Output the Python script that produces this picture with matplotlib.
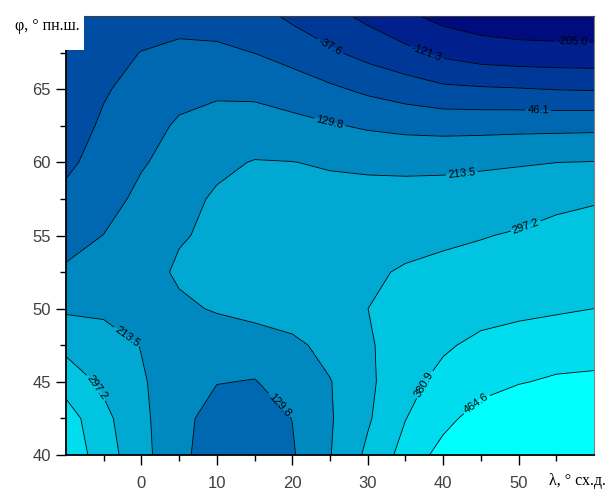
import numpy as np
import matplotlib
matplotlib.use("Agg")
import matplotlib.pyplot as plt
from matplotlib.patches import Rectangle

# grid: longitude (deg E) and latitude (deg N)
lons = [-10, -5, 0, 5, 10, 15, 20, 25, 30, 35, 40, 45, 50, 55, 60]
lats = [40, 42.5, 45, 47.5, 50, 52.5, 55, 57.5, 60, 62.5, 65, 67.5, 70]

# field values, one row per latitude
row_40 = [440, 338, 238, 155, 76, 75, 122, 210, 314, 411, 495, 520, 540, 550, 555]
row_42_5 = [420, 320, 231, 159, 90, 88, 131, 206, 287, 379, 440, 501, 525, 535, 545]
row_45 = [347, 280, 220, 179, 133, 126, 168, 210, 280, 355, 405, 432, 460, 475, 480]
row_47_5 = [275, 250, 211, 185, 170, 175, 195, 239, 289, 331, 370, 400, 415, 425, 430]
row_50 = [202, 198, 190, 200, 220, 238, 255, 276, 297, 318, 338, 352, 363, 372, 381]
row_52_5 = [140, 155, 180, 225, 235, 245, 255, 265, 285, 305, 318, 328, 336, 343, 350]
row_55 = [102, 131, 169, 207, 228, 240, 250, 258, 265, 272, 282, 293, 305, 313, 321]
row_57_5 = [66, 100, 148, 185, 225, 235, 240, 242, 243, 242, 244, 250, 260, 285, 292]
row_60 = [30, 78, 123, 158, 195, 218, 215, 205, 198, 196, 197, 202, 207, 213, 216]
row_62_5 = [0, 60, 99, 140, 155, 158, 150, 137, 120, 108, 103, 104, 107, 108, 110]
row_65 = [-15, 37, 80, 105, 118, 115, 95, 60, 30, 4, -21, -28, -33, -40, -44]
row_67_5 = [-10, 20, 48, 65, 62, 45, 10, -25, -65, -100, -140, -165, -175, -178, -180]
row_70 = [-20, -10, 5, 15, 10, -10, -52, -95, -141, -190, -230, -250, -260, -265, -268]

levels = [-205.0, -121.3, -37.6, 46.1, 129.8, 213.5, 297.2, 380.9, 464.6]
band_colors = ["#000C7E", "#00208E", "#003898", "#004EA3", "#0068B0",
               "#0088C0", "#00A8D2", "#00C4E0", "#00DDEE", "#00FFFF"]

# where the contour labels sit (lon, lat)
label_spots = [(57.1, 68.0), (37.6, 67.1), (25.0, 67.9), (52.6, 63.3),
               (25.0, 62.8), (42.6, 58.7), (50.9, 55.7), (-1.9, 48.1),
               (-6.0, 44.6), (37.6, 44.8), (44.6, 43.4), (18.7, 43.6)]

x_ticks = [0, 10, 20, 30, 40, 50]
x_minor = [-5, 5, 15, 25, 35, 45, 55]
y_ticks = [40, 45, 50, 55, 60, 65]
y_minor = [42.5, 47.5, 52.5, 57.5, 62.5, 67.5]

z = np.array([row_40, row_42_5, row_45, row_47_5, row_50, row_52_5, row_55,
              row_57_5, row_60, row_62_5, row_65, row_67_5, row_70])

plt.rcParams["font.family"] = ["Liberation Sans Narrow", "Liberation Sans"]

W, H = 609, 492
fig = plt.figure(figsize=(W / 100, H / 100), dpi=100)
ax = fig.add_axes([66 / W, 1 - 455 / H, (594 - 66) / W, (455 - 16) / H])

ax.contourf(lons, lats, z, levels=[-1000] + levels + [1000], colors=band_colors)
cs = ax.contour(lons, lats, z, levels=levels, colors="black", linewidths=0.6,
                negative_linestyles="solid")
ax.clabel(cs, fmt="%.1f", manual=label_spots, inline=True, fontsize=8,
          inline_spacing=2)

ax.set_xlim(-10, 60)
ax.set_ylim(40, 70)
ax.set_xticks(x_ticks)
ax.set_xticks(x_minor, minor=True)
ax.set_yticks(y_ticks)
ax.set_yticks(y_minor, minor=True)
ax.tick_params(which="major", length=7, width=1, labelsize=12,
               labelcolor="#404040")
ax.tick_params(which="minor", length=4, width=1)
ax.tick_params(axis="x", which="major", pad=8)
ax.tick_params(axis="y", which="major", pad=4)

for side in ["left", "bottom"]:
    ax.spines[side].set_linewidth(1.3)
    ax.spines[side].set_color("black")
ax.spines["top"].set_color("#404040")
ax.spines["right"].set_color("#808080")

# white patch behind the latitude label, cuts the corner of the map
fig.add_artist(Rectangle((58 / W, 1 - 50 / H), (84 - 58) / W, 50 / H,
                         facecolor="white", edgecolor="none",
                         transform=fig.transFigure, zorder=3))
fig.text(80 / W, 1 - 30 / H, "φ, ° пн.ш.", ha="right", va="baseline",
         family="Liberation Serif", fontsize=11.5, zorder=4)
fig.text(606 / W, 1 - 485 / H, "λ, ° сх.д.", ha="right", va="baseline",
         family="Liberation Serif", fontsize=11.5, zorder=4)

fig.savefig("out.png", dpi=100)
